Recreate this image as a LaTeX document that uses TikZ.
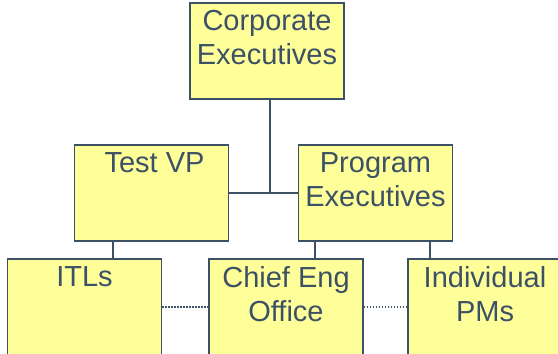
\documentclass[tikz,border=0pt]{standalone}
\usepackage{fontspec}
\setmainfont{Liberation Sans}
\usepackage{tikz}
\usetikzlibrary{positioning}
\definecolor{slate}{RGB}{60,80,102}
\definecolor{memo}{RGB}{255,255,153}
\tikzstyle{post}=[rectangle,draw=slate,fill=memo,line width=1.5pt,
                  minimum width=154pt,minimum height=96pt,inner sep=0pt]
\tikzstyle{txt}=[anchor=north,yshift=-8pt,inner sep=0pt,align=center,
                 text=slate,font=\fontsize{29}{34}\selectfont]
\tikzstyle{link}=[draw=slate,line width=1.5pt]
\tikzstyle{liaison}=[link,dash pattern=on 1.5pt off 1.5pt]

\begin{document}
\begin{tikzpicture}[x=1pt,y=-1pt]
\useasboundingbox (0,0) rectangle (558,354);
% top
\node[post,label={[txt]north:{Corporate\\Executives}}] (ce) at (267,51) {};
% middle row
\node[post,label={[txt,xshift=3pt]north:{Test VP}}] (tvp) at (151.5,193) {};
\node[post,label={[txt]north:{Program\\Executives}}] (pe) at (375.5,193) {};
% bottom row
\node[post,label={[txt]north:{ITLs}}] (itl) at (84.5,307) {};
\node[post,label={[txt]north:{Chief Eng\\Office}}] (ceo) at (286,307) {};
\node[post,label={[txt]north:{Individual\\PMs}}] (ipm) at (485,307) {};

\draw[link] (tvp.east) -- (pe.west);
\draw[link] ([xshift=3pt]ce.south) -- ([xshift=3pt]ce.south |- tvp.east);
\draw[link] ([xshift=28.5pt]itl.north) -- ([xshift=28.5pt]itl.north |- tvp.south);
\draw[link] ([xshift=29pt]ceo.north) -- ([xshift=29pt]ceo.north |- pe.south);
\draw[link] ([xshift=-55pt]ipm.north) -- ([xshift=-55pt]ipm.north |- pe.south);
\draw[liaison] (itl.east) -- (ceo.west);
\draw[liaison] (ceo.east) -- (ipm.west);
\end{tikzpicture}
\end{document}
